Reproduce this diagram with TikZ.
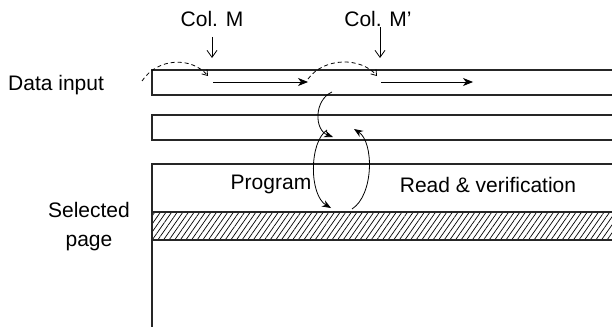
\documentclass[tikz,border=0pt]{standalone}
\usepackage{fontspec}
\setmainfont{Liberation Sans}
\usetikzlibrary{arrows.meta,patterns.meta}
\begin{document}
\begin{tikzpicture}[x=1pt,y=-1pt,
  lbl/.style={font=\fontsize{21}{29}\selectfont, inner sep=0pt, anchor=base},
  frame/.style={line width=1.1pt, draw=black!85},
  barb/.style={line width=0.8pt, -{Straight Barb[length=7pt,width=10pt]}},
  stl/.style={line width=0.8pt, -{Stealth[length=10pt,width=8pt,inset=3pt]}},
  dsh/.style={line width=0.8pt, dash pattern=on 4pt off 3pt, -{Straight Barb[length=5pt,width=7pt]}},
  crv/.style={line width=0.8pt, -{Stealth[length=9pt,width=7pt,inset=3pt]}}]
\useasboundingbox (0,0) rectangle (612,329);
% texts
\node[lbl] (colm) at (212,27) {Col. M};
\node[lbl] (colmp) at (378,27) {Col. M'};
\node[lbl, anchor=base west] (data) at (8,90) {Data input};
\node[lbl] (sel) at (89,217) {Selected};
\node[lbl] (page) at (89,246) {page};
\node[lbl] (prog) at (271,189) {Program};
\node[lbl] (read) at (488,192) {Read \& verification};
% rows
\draw[frame] (614,70) -- (152,70) -- (152,95) -- (614,95);
\draw[frame] (614,115) -- (152,115) -- (152,140) -- (614,140);
\fill[pattern={Lines[angle=55,distance=4.6pt,line width=0.7pt]}] (152,212) rectangle (614,240);
\draw[frame] (614,164) -- (152,164) -- (152,327);
\draw[frame] (152,212) -- (614,212);
\draw[frame] (152,240) -- (614,240);
% coordinates
\coordinate (m1a) at (212,37); \coordinate (m1b) at (212,58);
\coordinate (m2a) at (380,37); \coordinate (m2b) at (380,58);
\coordinate (d1s) at (142,81); \coordinate (d1e) at (208,76);
\coordinate (h1s) at (213,82); \coordinate (h1e) at (308,82);
\coordinate (d2s) at (308,79); \coordinate (d2e) at (377,76);
\coordinate (h2s) at (381,82); \coordinate (h2e) at (473,82);
\coordinate (cs) at (332,92); \coordinate (ce) at (333,137);
\coordinate (ps) at (327,130); \coordinate (pe) at (331,208);
\coordinate (rs) at (352,209); \coordinate (re) at (354,129);
% arrows
\draw[barb] (colm.south |- m1a) -- (m1b);
\draw[barb] (colmp.south -| m2a) -- (m2b);
\draw[dsh] (d1s) .. controls (158,57) and (192,57) .. (d1e);
\draw[stl] (h1s) -- (h1e);
\draw[dsh] (d2s) .. controls (324,57) and (361,57) .. (d2e);
\draw[stl] (h2s) -- (h2e);
\draw[crv] (cs) .. controls (314,100) and (314,130) .. (ce);
\draw[crv] (ps) .. controls (309,142) and (309,195) .. (pe);
\draw[crv] (rs) .. controls (374,195) and (374,142) .. (re);
\end{tikzpicture}
\end{document}
